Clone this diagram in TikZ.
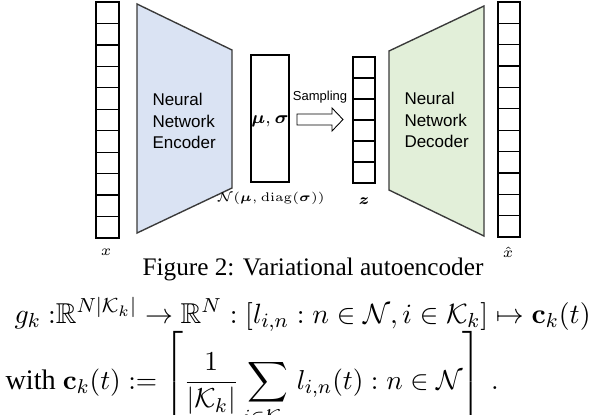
\documentclass[tikz,border=0pt]{standalone}
\usepackage{amsmath,amssymb,bm}
\usepackage[no-math]{fontspec}
\setmainfont{Liberation Serif}
\setsansfont{Liberation Sans}
\definecolor{encfill}{HTML}{DAE3F3}
\definecolor{decfill}{HTML}{E2EFD9}
\definecolor{edge}{HTML}{3A3A3A}
\begin{document}
\begin{tikzpicture}[x=0.4pt,y=-0.4pt,
  vec/.style={draw=black,line width=0.5pt},
  cellline/.style={draw=black,line width=0.5pt},
  trap/.style={draw=edge,line width=0.55pt},
  nnlabel/.style={font=\sffamily\fontsize{6.8}{8.6}\selectfont,align=left,inner sep=0pt,anchor=west},
  smallmath/.style={inner sep=0pt,font=\fontsize{6}{7}\selectfont},
  bigarrow/.style={draw=black,line width=0.35pt,fill=white}]
\useasboundingbox (0,0) rectangle (592,414);
\clip (0,0) rectangle (592,414);
% input vector x
\draw[vec] (96,2) rectangle (119,238);
\foreach \i in {1,...,10} {\draw[cellline] (96,{2+\i*236/11}) -- (119,{2+\i*236/11});}
% encoder
\draw[trap,fill=encfill] (137,4) -- (232,50) -- (232,188) -- (137,233) -- cycle;
\node[nnlabel] (enc) at (152,121) {Neural\\Network\\Encoder};
% mu sigma box
\draw[vec] (251,55) rectangle (289,182);
\node[inner sep=0pt,font=\fontsize{6.6}{8}\selectfont] (musig) at (270,121) {$\bm{\mu},\bm{\sigma}$};
\node[inner sep=0pt,font=\fontsize{5}{6}\selectfont] (dist) at (271,198) {$\mathcal{N}(\bm{\mu},\mathrm{diag}(\bm{\sigma}))$};
% sampling arrow
\draw[bigarrow] (297,114) -- (332,114) -- (332,108) -- (343,119.5) -- (332,131) -- (332,125) -- (297,125) -- cycle;
\node[inner sep=0pt,font=\sffamily\fontsize{5.2}{6}\selectfont] (samp) at (320,97) {Sampling};
% z vector
\draw[vec] (353,57) rectangle (375,183);
\foreach \i in {1,...,5} {\draw[cellline] (353,{57+\i*126/6}) -- (375,{57+\i*126/6});}
\node[smallmath] (zl) at (364,201) {$\bm{z}$};
% decoder
\draw[trap,fill=decfill] (389,51) -- (484,6) -- (484,236) -- (389,190) -- cycle;
\node[nnlabel] (dec) at (404,120) {Neural\\Network\\Decoder};
% output vector
\draw[vec] (498,2) rectangle (520,237);
\foreach \i in {1,...,10} {\draw[cellline] (498,{2+\i*235/11}) -- (520,{2+\i*235/11});}
\node[smallmath] (xl) at (106,252) {$x$};
\node[smallmath] (xhl) at (508,252) {$\hat{x}$};
% caption
\node[inner sep=0pt,anchor=base,font=\fontsize{10.1}{12}\selectfont] (cap) at (313,275) {Figure 2: Variational autoencoder};
% equations
\node[inner sep=0pt,anchor=base west,font=\fontsize{11.3}{13}\selectfont,transform shape,scale=1.018] (eq1) at (14,323)
 {$g_k\ {:}\mathbb{R}^{N|\mathcal{K}_k|}\rightarrow\mathbb{R}^N:[l_{i,n}:n\in\mathcal{N},i\in\mathcal{K}_k]\mapsto\mathbf{c}_k(t)$};
\node[inner sep=0pt,anchor=base west,font=\fontsize{11.3}{13}\selectfont] (eq2) at (5,389)
 {with $\mathbf{c}_k(t):=\displaystyle\left[\frac{1}{|\mathcal{K}_k|}\sum_{i\in\mathcal{K}_k}l_{i,n}(t):n\in\mathcal{N}\right]\hspace{2pt}.$};
\end{tikzpicture}
\end{document}
